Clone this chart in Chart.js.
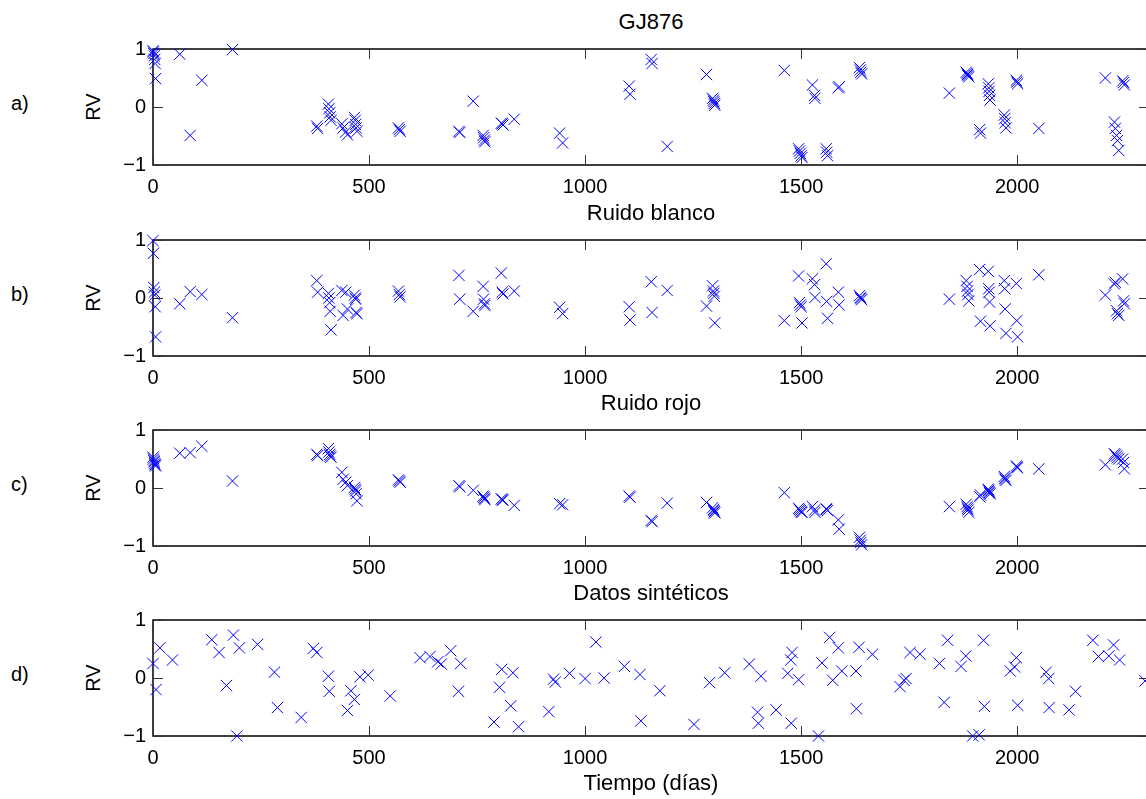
<!DOCTYPE html>
<html>
<head>
<title>GJ876</title>
<script src="https://cdn.jsdelivr.net/npm/chart.js"></script>
<style>
    body { margin: 0; width: 1146px; height: 799px; overflow: hidden; background: #fff; position: relative;
           font-family: "Liberation Sans", Arial, sans-serif; color: #000; }
    .panel { position: absolute; left: 0; }
    .txt { position: absolute; white-space: nowrap; }
    .ttl { left: 153px; width: 996px; text-align: center; font-size: 22px; line-height: 22px; }
    .lab { left: 11px; font-size: 20px; line-height: 20px; }
    .rv { left: 93px; font-size: 20px; line-height: 20px; transform: translate(-50%, -50%) rotate(-90deg); }
</style>
</head>
<body>
<div id="fig"></div>
<script>
// epochs shared by panels a, b, c (days)
const times = [0, 1, 2, 3, 4, 5, 6, 62, 86, 113, 184, 379, 381, 406, 407, 409, 410, 412,
    437, 440, 446, 450, 466, 468, 469, 470, 472, 568, 570, 572, 708, 710, 741, 764, 765, 767, 768,
    806, 808, 810, 836, 941, 948, 1102, 1104, 1153, 1155, 1190, 1281, 1295, 1297, 1298, 1299, 1300,
    1461, 1494, 1496, 1498, 1500, 1502, 1526, 1531, 1532, 1558, 1559, 1561, 1586, 1588,
    1635, 1637, 1638, 1640, 1843, 1882, 1884, 1885, 1886, 1888, 1913, 1915, 1933, 1934, 1935, 1936, 1937,
    1970, 1971, 1972, 1974, 1998, 1999, 2001, 2050, 2204, 2225, 2227, 2230, 2232, 2235, 2244, 2246, 2248];

const rvGJ876 = [0.97, 0.95, 0.92, 0.88, 0.82, 0.75, 0.49, 0.91, -0.49, 0.46, 0.99, -0.33, -0.37,
    0.05, -0.03, -0.1, -0.17, -0.23, -0.29, -0.36, -0.43, -0.48, -0.18, -0.23, -0.3, -0.36, -0.42,
    -0.36, -0.39, -0.42, -0.42, -0.44, 0.1, -0.49, -0.53, -0.57, -0.6, -0.28, -0.29, -0.31, -0.21,
    -0.45, -0.62, 0.36, 0.22, 0.82, 0.75, -0.68, 0.56, 0.15, 0.12, 0.09, 0.06, 0.03, 0.63,
    -0.72, -0.76, -0.8, -0.84, -0.87, 0.38, 0.2, 0.15, -0.72, -0.78, -0.84, 0.33, 0.35,
    0.68, 0.64, 0.6, 0.57, 0.24, 0.6, 0.58, 0.56, 0.54, 0.52, -0.39, -0.45, 0.4, 0.33, 0.27, 0.2, 0.12,
    -0.14, -0.2, -0.27, -0.36, 0.46, 0.43, 0.4, -0.37, 0.5, -0.26, -0.37, -0.49, -0.58, -0.75, 0.45, 0.42, 0.38];

const rvWhite = [0.99, 0.77, 0.18, 0.1, 0.05, -0.15, -0.67, -0.1, 0.11, 0.06, -0.34, 0.3, 0.1,
    0.08, 0.0, -0.08, -0.23, -0.55, 0.13, -0.3, 0.1, -0.19, 0.05, 0.0, -0.02, -0.25, -0.27,
    0.12, 0.06, 0.02, 0.39, -0.02, -0.23, 0.2, -0.02, -0.1, -0.13, 0.43, 0.1, 0.07, 0.12,
    -0.16, -0.27, -0.15, -0.38, 0.28, -0.25, 0.13, -0.14, 0.21, 0.12, 0.08, 0.03, -0.43, -0.39,
    0.38, -0.08, -0.12, -0.15, -0.43, 0.33, 0.23, 0.01, 0.59, -0.06, -0.35, 0.1, -0.12,
    0.04, 0.01, -0.01, -0.03, -0.02, 0.3, 0.2, 0.12, 0.06, -0.05, 0.49, -0.4, 0.46, 0.16, 0.1, -0.07, -0.48,
    0.3, 0.16, -0.19, -0.61, 0.25, -0.39, -0.67, 0.4, 0.05, 0.24, 0.27, -0.22, -0.27, -0.3, 0.33, -0.05, -0.1];

const rvRed = [0.53, 0.5, 0.47, 0.45, 0.42, 0.4, 0.38, 0.6, 0.61, 0.72, 0.12, 0.58, 0.56,
    0.68, 0.62, 0.58, 0.55, 0.53, 0.27, 0.15, 0.1, 0.04, 0.01, -0.02, -0.05, -0.1, -0.22,
    0.14, 0.12, 0.1, 0.04, 0.02, -0.04, -0.14, -0.16, -0.18, -0.2, -0.19, -0.2, -0.21, -0.3,
    -0.27, -0.29, -0.14, -0.16, -0.56, -0.58, -0.26, -0.25, -0.34, -0.37, -0.39, -0.41, -0.43, -0.08,
    -0.35, -0.37, -0.39, -0.41, -0.42, -0.32, -0.38, -0.42, -0.36, -0.37, -0.39, -0.55, -0.71,
    -0.85, -0.9, -0.94, -0.98, -0.32, -0.28, -0.32, -0.35, -0.38, -0.42, -0.15, -0.12, -0.02, -0.04, -0.06, -0.08, -0.1,
    0.2, 0.17, 0.15, 0.13, 0.38, 0.36, 0.35, 0.33, 0.4, 0.59, 0.57, 0.55, 0.52, 0.5, 0.5, 0.44, 0.33];

// panel d has its own sampling
const timesSynth = [0, 7, 16, 45, 136, 153, 170, 186, 194, 200, 242, 281, 288, 343, 371, 379, 406, 408,
    450, 458, 466, 479, 498, 549, 618, 641, 659, 667, 689, 707, 712, 789, 802, 807, 828, 833, 846,
    916, 927, 931, 964, 1000, 1025, 1044, 1091, 1127, 1129, 1173, 1252, 1288, 1323, 1380, 1399, 1401, 1407, 1442,
    1469, 1476, 1477, 1479, 1494, 1540, 1548, 1566, 1573, 1586, 1594, 1627, 1628, 1634, 1665,
    1729, 1738, 1743, 1752, 1775, 1820, 1831, 1839, 1870, 1881, 1897, 1912, 1922, 1924,
    1984, 1994, 1998, 2001, 2067, 2073, 2074, 2120, 2135, 2175, 2188, 2212, 2223, 2237, 2296];

const rvSynth = [0.25, -0.2, 0.52, 0.31, 0.66, 0.44, -0.13, 0.74, -1.0, 0.52, 0.58, 0.1, -0.51, -0.68, 0.51, 0.44, 0.03, -0.23,
    -0.56, -0.22, -0.37, 0.02, 0.05, -0.31, 0.35, 0.37, 0.28, 0.24, 0.47, -0.23, 0.25, -0.76, -0.16, 0.15, -0.48, 0.09, -0.84,
    -0.58, -0.02, -0.07, 0.08, -0.01, 0.62, 0.0, 0.2, 0.06, -0.74, -0.22, -0.8, -0.08, 0.09, 0.24, -0.59, -0.78, 0.03, -0.55,
    0.08, 0.31, -0.78, 0.44, -0.03, -1.0, 0.26, 0.7, -0.04, 0.52, 0.12, 0.12, -0.53, 0.53, 0.41,
    -0.15, -0.04, -0.01, 0.44, 0.41, 0.25, -0.42, 0.65, 0.2, 0.38, -1.0, -0.98, 0.65, -0.49,
    0.12, 0.19, 0.35, -0.47, 0.1, -0.01, -0.51, -0.55, -0.23, 0.65, 0.37, 0.38, 0.57, 0.31, -0.05];

const xTicks = [0, 500, 1000, 1500, 2000];
const yTicks = [-1, 0, 1];
const panelTitles = ['GJ876', 'Ruido blanco', 'Ruido rojo', 'Datos sint\u00e9ticos'];
const panelLetters = ['a)', 'b)', 'c)', 'd)'];
const xLabel = 'Tiempo (d\u00edas)';
const yLabel = 'RV';

const panels = [
    { t: times, v: rvGJ876 },
    { t: times, v: rvWhite },
    { t: times, v: rvRed },
    { t: timesSynth, v: rvSynth }
];

const plotTops = [49, 240, 430, 620];
const plotH = 116;
const padTop = 20, axisH = 45, axisW = 153, canvasW = 1149;
const xMax = 2305;
const fontFamily = '"Liberation Sans", Arial, sans-serif';

// box and inward ticks, matlab style
const frame = {
    id: 'frame',
    beforeDatasetsDraw(chart) {
        const { ctx, chartArea: { left, right, top, bottom }, scales: { x, y } } = chart;
        ctx.save();
        ctx.strokeStyle = '#000';
        ctx.lineWidth = 1.5;
        ctx.strokeRect(left, top, right - left, bottom - top);
        ctx.lineWidth = 1;
        ctx.strokeStyle = '#333';
        ctx.beginPath();
        xTicks.forEach(v => {
            const px = Math.round(x.getPixelForValue(v)) + 0.5;
            ctx.moveTo(px, bottom); ctx.lineTo(px, bottom - 10);
            ctx.moveTo(px, top); ctx.lineTo(px, top + 10);
        });
        yTicks.forEach(v => {
            const py = Math.round(y.getPixelForValue(v)) + 0.5;
            ctx.moveTo(left, py); ctx.lineTo(left + 10, py);
            ctx.moveTo(right, py); ctx.lineTo(right - 10, py);
        });
        ctx.stroke();
        ctx.restore();
    }
};

const fig = document.getElementById('fig');

function addText(cls, text, top) {
    const d = document.createElement('div');
    d.className = 'txt ' + cls;
    d.textContent = text;
    d.style.top = top + 'px';
    fig.appendChild(d);
    return d;
}

function noPad(s) {
    s.paddingLeft = 0; s.paddingRight = 0; s.paddingTop = 0; s.paddingBottom = 0;
}

panels.forEach((p, i) => {
    const top = plotTops[i];
    addText('ttl', panelTitles[i], top - 38);
    addText('lab', panelLetters[i], top + 44);
    addText('rv', yLabel, top + plotH / 2);

    const cv = document.createElement('canvas');
    cv.className = 'panel';
    cv.width = canvasW;
    cv.height = padTop + plotH + axisH;
    cv.style.top = (top - padTop) + 'px';
    fig.appendChild(cv);

    new Chart(cv.getContext('2d'), {
        type: 'scatter',
        data: {
            datasets: [{
                data: p.t.map((t, k) => ({ x: t, y: p.v[k] })),
                pointStyle: 'crossRot',
                pointRadius: 8,
                pointHoverRadius: 8,
                pointBorderWidth: 1,
                borderColor: '#0000ff',
                backgroundColor: '#0000ff',
                showLine: false,
                clip: false
            }]
        },
        options: {
            responsive: false,
            animation: false,
            events: [],
            layout: { autoPadding: false, padding: { top: padTop, left: 0, right: 0, bottom: 0 } },
            plugins: { legend: { display: false }, tooltip: { enabled: false } },
            scales: {
                x: {
                    type: 'linear', min: 0, max: xMax,
                    grid: { display: false, drawTicks: false },
                    border: { display: false },
                    afterBuildTicks: s => { s.ticks = xTicks.map(v => ({ value: v })); },
                    afterFit: s => { s.height = axisH; noPad(s); },
                    ticks: { padding: 10, maxRotation: 0, autoSkip: false, color: '#000',
                             font: { family: fontFamily, size: 20 },
                             callback: v => String(v) }
                },
                y: {
                    min: -1, max: 1,
                    grid: { display: false, drawTicks: false },
                    border: { display: false },
                    afterBuildTicks: s => { s.ticks = yTicks.map(v => ({ value: v })); },
                    afterFit: s => { s.width = axisW; noPad(s); },
                    ticks: { padding: 7, color: '#000', font: { family: fontFamily, size: 20 },
                             callback: v => v < 0 ? '\u2212' + Math.abs(v) : String(v) }
                }
            }
        },
        plugins: [frame]
    });
});

addText('ttl', xLabel, plotTops[3] + plotH + 36);
</script>
</body>
</html>
